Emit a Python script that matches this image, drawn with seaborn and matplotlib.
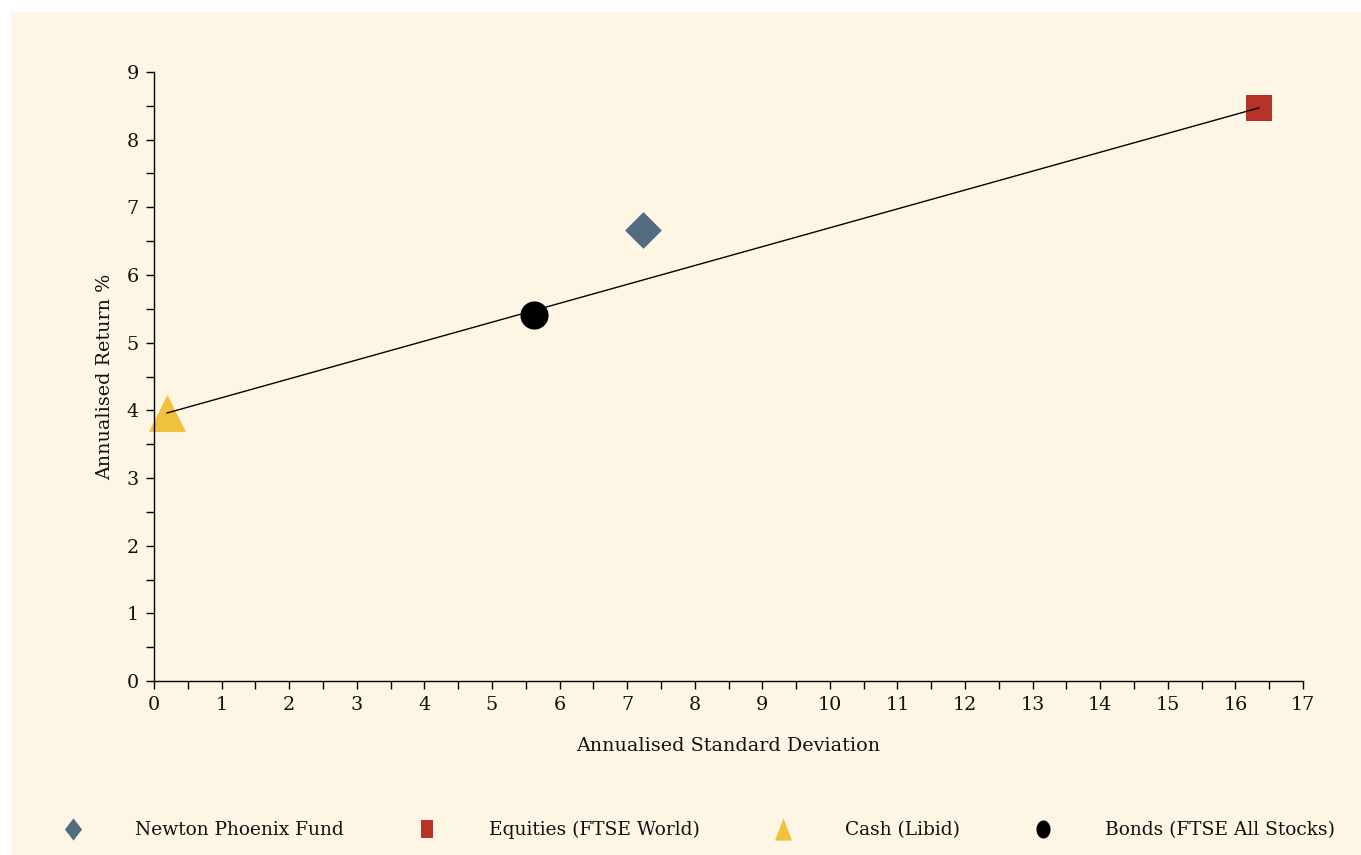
import matplotlib
matplotlib.use("Agg")
import matplotlib.pyplot as plt
from matplotlib.patches import Rectangle
from matplotlib.lines import Line2D
from matplotlib.ticker import MultipleLocator
import seaborn as sns
import pandas as pd
import numpy as np

# ---- data ----
names = ["Newton Phoenix Fund", "Equities (FTSE World)", "Cash (Libid)", "Bonds (FTSE All Stocks)"]
std_dev = [7.24, 16.35, 0.19, 5.62]
returns = [6.67, 8.47, 3.96, 5.41]
colors = ["#546C82", "#B73227", "#EFC13F", "#000000"]
markers = ["D", "s", "^", "o"]
marker_area = [350, 377, 710, 410]
line_names = ["Cash (Libid)", "Equities (FTSE World)"]

df = pd.DataFrame({"name": names, "sd": std_dev, "ret": returns})

cream = "#FDF6E5"
W, H = 1361, 855
FS = 13.8
LFS = 13.4
sns.set_theme(style="ticks")
plt.rcParams["font.family"] = ["DejaVu Serif"]

fig = plt.figure(figsize=(W / 100, H / 100), dpi=100, facecolor="white")
fig.patches.append(Rectangle((11 / W, 0), 1, (H - 12) / H, transform=fig.transFigure,
                             facecolor=cream, edgecolor="none", zorder=-10))
ax = fig.add_axes([154 / W, 1 - 681 / H, (1303 - 154) / W, (681 - 72) / H])
ax.set_facecolor("none")

for i, n in enumerate(names):
    sns.scatterplot(data=df[df["name"] == n], x="sd", y="ret", ax=ax, marker=markers[i],
                    color=colors[i], s=marker_area[i], linewidth=0, legend=False, zorder=2)

ldf = df.set_index("name").loc[line_names].reset_index()
sns.lineplot(data=ldf, x="sd", y="ret", ax=ax, color="black", linewidth=1.0, zorder=3,
             sort=False, legend=False)

ax.set_xlim(0, 17)
ax.set_ylim(0, 9)
ax.xaxis.set_major_locator(MultipleLocator(1))
ax.xaxis.set_minor_locator(MultipleLocator(0.5))
ax.yaxis.set_major_locator(MultipleLocator(1))
ax.yaxis.set_minor_locator(MultipleLocator(0.5))
for s in ["top", "right"]:
    ax.spines[s].set_visible(False)
for s in ["left", "bottom"]:
    ax.spines[s].set_linewidth(1.0)
    ax.spines[s].set_color("black")
ax.tick_params(which="both", direction="out", length=6, width=1.0, color="black",
               labelsize=FS, labelcolor="#111111")
ax.tick_params(axis="x", pad=5)
ax.tick_params(axis="y", pad=5)
ax.set_xlabel("Annualised Standard Deviation", fontsize=FS, labelpad=16, color="#111111")
ax.set_ylabel("Annualised Return %", fontsize=FS, labelpad=9, color="#111111")
for c in ax.collections:
    c.set_clip_on(False)

# legend with slightly tall markers
diamond = [(0, 1), (0.77, 0), (0, -1), (-0.77, 0), (0, 1)]
square = [(-0.72, -1), (0.72, -1), (0.72, 1), (-0.72, 1), (-0.72, -1)]
tri = [(0, 1), (0.77, -1), (-0.77, -1), (0, 1)]
t = np.linspace(0, 2 * np.pi, 40)
ell = list(zip(0.78 * np.cos(t), np.sin(t)))
leg_markers = [diamond, square, tri, ell]
leg_sizes = [16, 12.5, 16, 13]
handles = [Line2D([], [], linestyle="none", marker=leg_markers[i], markersize=leg_sizes[i],
                  markerfacecolor=colors[i], markeredgewidth=0) for i in range(4)]
fig.legend(handles, names, loc="center left", bbox_to_anchor=(55 / W, 1 - 830 / H),
           ncol=4, frameon=False, fontsize=LFS, handlelength=1.9, handletextpad=2.4,
           columnspacing=3.5, borderpad=0, borderaxespad=0, labelcolor="#111111")

fig.savefig("out.png", dpi=100, facecolor=fig.get_facecolor())
